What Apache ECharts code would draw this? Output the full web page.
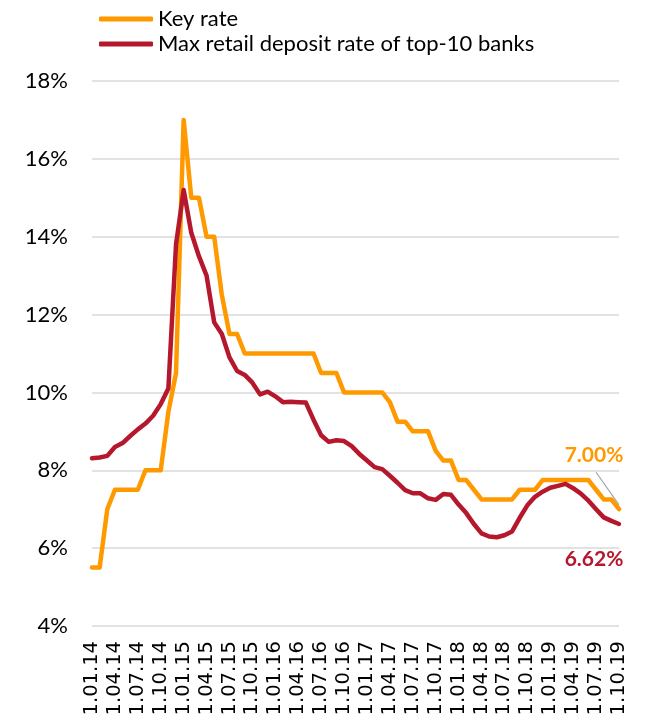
<!DOCTYPE html>
<html>
<head>
<meta charset="utf-8">
<script src="https://cdn.jsdelivr.net/npm/echarts@6/dist/echarts.min.js"></script>
<style>
  html, body { margin: 0; padding: 0; background: #fff; }
  #chart { width: 646px; height: 725px; }
</style>
</head>
<body>
<div id="chart"></div>
<script>
// monthly points, 1.01.14 ... 1.10.19
const months = []
for (let y = 14; y <= 19; y++) {
  for (let m = 1; m <= 12; m++) {
    if (y === 19 && m > 10) break
    months.push('1.' + String(m).padStart(2, '0') + '.' + y)
  }
}

const keyRate = [
  5.5, 5.5, 7.0, 7.5, 7.5, 7.5, 7.5, 8.0, 8.0, 8.0,
  9.5, 10.5, 17.0, 15.0, 15.0, 14.0, 14.0, 12.5, 11.5, 11.5,
  11.0, 11.0, 11.0, 11.0, 11.0, 11.0, 11.0, 11.0, 11.0, 11.0,
  10.5, 10.5, 10.5, 10.0, 10.0, 10.0, 10.0, 10.0, 10.0, 9.75,
  9.25, 9.25, 9.0, 9.0, 9.0, 8.5, 8.25, 8.25, 7.75, 7.75,
  7.5, 7.25, 7.25, 7.25, 7.25, 7.25, 7.5, 7.5, 7.5, 7.75,
  7.75, 7.75, 7.75, 7.75, 7.75, 7.75, 7.5, 7.25, 7.25, 7.0,
]

const depositRate = [
  8.31, 8.33, 8.37, 8.6, 8.7, 8.88, 9.05, 9.2, 9.4, 9.7,
  10.1, 13.8, 15.2, 14.1, 13.5, 13.0, 11.8, 11.5, 10.9, 10.55,
  10.45, 10.25, 9.95, 10.02, 9.9, 9.75, 9.76, 9.75, 9.74, 9.3,
  8.9, 8.73, 8.77, 8.75, 8.62, 8.42, 8.25, 8.08, 8.03, 7.86,
  7.68, 7.49, 7.41, 7.41, 7.28, 7.24, 7.39, 7.37, 7.12, 6.9,
  6.62, 6.38, 6.3, 6.28, 6.33, 6.43, 6.78, 7.1, 7.32, 7.45,
  7.55, 7.6, 7.65, 7.54, 7.4, 7.22, 7.0, 6.79, 6.7, 6.62,
]

const seriesNames = ['Key rate', 'Max retail deposit rate of top-10 banks']
const colors = ['#ff9900', '#b5172c']

// only the last point carries a value label
function withEndLabel(arr, position) {
  return arr.map((v, i) =>
    i < arr.length - 1
      ? v
      : { value: v, label: { show: true, position: position } }
  )
}

// leader from the moved key rate label down to its end point
const lastIdx = keyRate.length - 1
const lastKey = keyRate[lastIdx]
const leader = [
  { coord: [lastIdx - 3.27, lastKey + 0.95] },
  { coord: [lastIdx - 0.5, lastKey + 0.11] },
]

const chart = echarts.init(document.getElementById('chart'))

chart.setOption({
  backgroundColor: '#fff',
  animation: false,
  legend: {
    orient: 'vertical',
    left: 94,
    top: 3,
    icon: 'roundRect',
    itemWidth: 54,
    itemHeight: 5,
    itemGap: 3,
    textStyle: {
      fontFamily: 'Lato',
      fontSize: 22,
      color: '#000',
    },
    data: seriesNames,
  },
  grid: {
    left: 92,
    right: 27,
    top: 81,
    bottom: 99,
  },
  xAxis: {
    type: 'category',
    boundaryGap: false,
    data: months,
    axisLine: { show: false },
    axisTick: { show: false },
    axisLabel: {
      interval: 2,
      rotate: 90,
      margin: 15,
      fontFamily: 'DejaVu Sans',
      fontSize: 19.5,
      color: '#000',
    },
  },
  yAxis: {
    type: 'value',
    min: 4,
    max: 18,
    interval: 2,
    axisLine: { show: false },
    axisTick: { show: false },
    axisLabel: {
      formatter: '{value}%',
      margin: 24,
      fontFamily: 'Lato',
      fontSize: 22,
      color: '#000',
    },
    splitLine: {
      lineStyle: {
        color: '#d9d9d9',
        width: 1.5,
      },
    },
  },
  series: [
    {
      name: seriesNames[0],
      type: 'line',
      symbol: 'circle',
      symbolSize: 0,
      showSymbol: true,
      showAllSymbol: true,
      color: colors[0],
      lineStyle: { width: 4.5, join: 'round', cap: 'round' },
      data: withEndLabel(keyRate, 'top'),
      label: {
        formatter: (p) => p.value.toFixed(2) + '%',
        fontFamily: 'Lato',
        fontWeight: 'bold',
        fontSize: 21,
        color: colors[0],
      },
      labelLayout: { dx: -25, dy: -38 },
      markLine: {
        silent: true,
        symbol: 'none',
        label: { show: false },
        lineStyle: { color: '#a6a6a6', width: 1.2, type: 'solid' },
        data: [leader],
      },
    },
    {
      name: seriesNames[1],
      type: 'line',
      symbol: 'circle',
      symbolSize: 0,
      showSymbol: true,
      showAllSymbol: true,
      color: colors[1],
      lineStyle: { width: 4.5, join: 'round', cap: 'round' },
      data: withEndLabel(depositRate, 'bottom'),
      label: {
        formatter: (p) => p.value.toFixed(2) + '%',
        fontFamily: 'Lato',
        fontWeight: 'bold',
        fontSize: 21,
        color: colors[1],
      },
      labelLayout: { dx: -25, dy: 20 },
    },
  ],
})
</script>
</body>
</html>
